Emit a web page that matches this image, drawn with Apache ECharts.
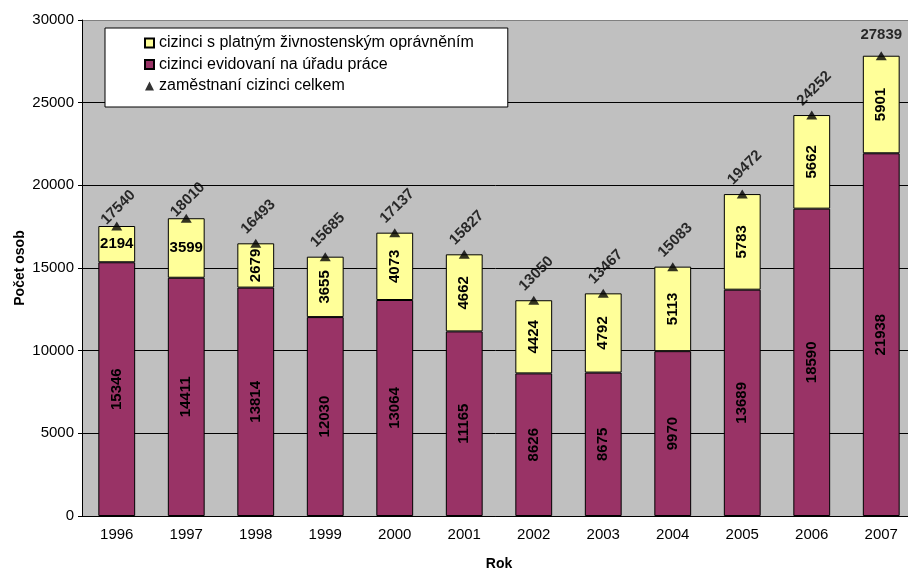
<!DOCTYPE html>
<html>
<head>
<meta charset="utf-8">
<script src="https://cdn.jsdelivr.net/npm/echarts@6/dist/echarts.min.js"></script>
<style>
  html, body { margin: 0; padding: 0; background: #fff; }
  #chart { width: 908px; height: 572px; }
</style>
</head>
<body>
<div id="chart"></div>
<script>
var years = ['1996','1997','1998','1999','2000','2001','2002','2003','2004','2005','2006','2007']
// cizinci evidovaní na úřadu práce
var evidovani = [15346,14411,13814,12030,13064,11165,8626,8675,9970,13689,18590,21938]
// cizinci s platným živnostenským oprávněním
var zivnost = [2194,3599,2679,3655,4073,4662,4424,4792,5113,5783,5662,5901]
// zaměstnaní cizinci celkem
var celkem = [17540,18010,16493,15685,17137,15827,13050,13467,15083,19472,24252,27839]
var yTicks = [0,5000,10000,15000,20000,25000,30000]

var nameZiv = 'cizinci s platným živnostenským oprávněním'
var nameEvid = 'cizinci evidovaní na úřadu práce'
var nameCelk = 'zaměstnaní cizinci celkem'

var font = '"Liberation Sans", Arial, sans-serif'

var chart = echarts.init(document.getElementById('chart'))

// horizontal labels where the yellow part is short enough
var zivData = zivnost.map(function (v, i) {
    return i < 2 ? {value: v, label: {rotate: 0}} : v
})
// first two totals sit closer, the last one is horizontal
var celkData = celkem.map(function (v, i) {
    if (i === celkem.length - 1) return {value: v, label: {rotate: 0, position: [5.5, -16]}}
    if (i < 2) return {value: v, label: {position: [7, -14]}}
    return v
})

var lbl = {fontSize: 15, fontWeight: 'bold', color: '#000', fontFamily: font}

var option = {
    animation: false,
    textStyle: {fontFamily: font, color: '#000'},
    grid: {
        left: 82, right: -8, top: 20, bottom: 56,
        outerBoundsMode: 'none',
        containLabel: false,
        show: true, backgroundColor: '#C0C0C0', borderWidth: 0
    },
    legend: {
        orient: 'vertical',
        left: 105, top: 28,
        backgroundColor: '#fff',
        borderColor: '#000', borderWidth: 1, borderRadius: 0,
        padding: [7, 34, 13, 39],
        itemWidth: 9, itemHeight: 9, itemGap: 5.5,
        textStyle: {fontSize: 16, lineHeight: 15, color: '#000', fontFamily: font},
        data: [
            {name: nameZiv, icon: 'rect'},
            {name: nameEvid, icon: 'rect'},
            {name: nameCelk, icon: 'triangle'}
        ]
    },
    xAxis: {
        type: 'category',
        data: years,
        name: 'Rok',
        nameLocation: 'middle',
        nameGap: 41,
        nameMoveOverlap: false,
        nameTextStyle: {fontSize: 14, fontWeight: 'bold', color: '#000', fontFamily: font},
        axisLine: {lineStyle: {color: '#000'}},
        axisTick: {length: 4, lineStyle: {color: '#000'}},
        axisLabel: {fontSize: 15, color: '#000', margin: 11, fontFamily: font}
    },
    yAxis: {
        type: 'value',
        min: yTicks[0], max: yTicks[yTicks.length - 1], interval: 5000,
        name: 'Počet osob',
        nameLocation: 'middle',
        nameGap: 55,
        nameMoveOverlap: false,
        nameTextStyle: {fontSize: 14, fontWeight: 'bold', color: '#000', fontFamily: font},
        axisLine: {show: true, lineStyle: {color: '#000'}},
        axisTick: {show: true, length: 4, lineStyle: {color: '#000'}},
        axisLabel: {
            fontSize: 15, color: '#000', margin: 8, fontFamily: font,
            formatter: function (v) { return String(v) }
        },
        splitLine: {lineStyle: {color: ['#000','#000','#000','#000','#000','#000','#808080']}}
    },
    series: [
        {
            name: nameEvid,
            type: 'bar',
            stack: 'a',
            barWidth: '53%',
            data: evidovani,
            itemStyle: {color: '#993366', borderColor: '#000', borderWidth: 1},
            label: Object.assign({show: true, position: 'inside', rotate: 90}, lbl)
        },
        {
            name: nameZiv,
            type: 'bar',
            stack: 'a',
            data: zivData,
            itemStyle: {color: '#FFFF99', borderColor: '#000', borderWidth: 1},
            label: Object.assign({show: true, position: 'inside', rotate: 90}, lbl)
        },
        {
            name: nameCelk,
            type: 'scatter',
            symbol: 'triangle',
            symbolSize: [11, 9],
            data: celkData,
            z: 5,
            itemStyle: {color: '#000'},
            label: Object.assign({
                show: true, position: [8, -22],
                rotate: 45, align: 'center', verticalAlign: 'middle'
            }, lbl)
        }
    ]
}

chart.setOption(option)
</script>
</body>
</html>
